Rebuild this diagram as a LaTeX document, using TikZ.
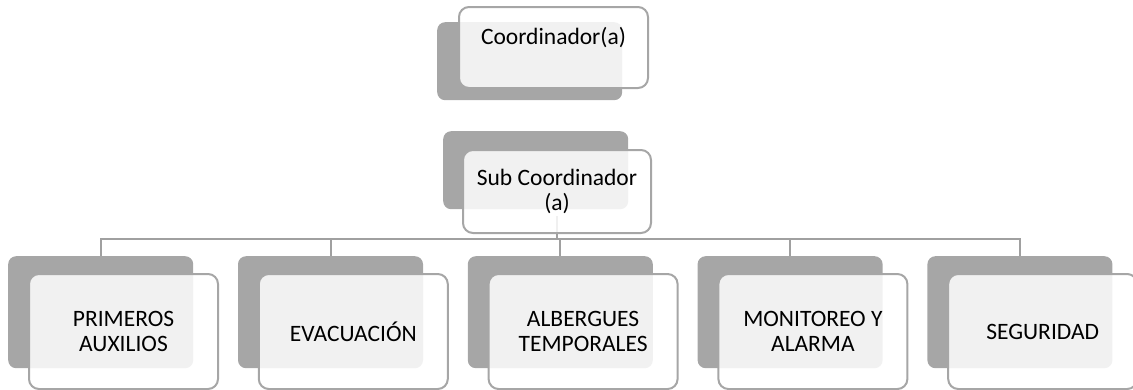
\documentclass[tikz,border=0pt]{standalone}
\usepackage{fontspec}
\setmainfont{Carlito}
\usepackage{tikz}
\usetikzlibrary{positioning,calc,backgrounds}
\definecolor{boxgray}{HTML}{A6A6A6}
\definecolor{edgegray}{HTML}{A6A6A6}
\definecolor{conngray}{HTML}{A0A0A0}

\begin{document}
\begin{tikzpicture}[
    x=1pt, y=-1pt,
    backbox/.style={rectangle, rounded corners=8pt, fill=boxgray, anchor=north west, inner sep=0, minimum width=185pt},
    frontbox/.style={rectangle, rounded corners=10pt, draw=edgegray, line width=2pt, fill=white, fill opacity=0.85, text opacity=1,
        anchor=north west, inner sep=0, align=center, font=\fontsize{23.5}{25}\selectfont},
    boxtext/.style={inner sep=0, align=center, font=\fontsize{23.5}{25}\selectfont},
    conn/.style={draw=conngray, line width=2pt}]
\useasboundingbox (0,0) rectangle (1133,389);

% top unit
\node (coord-back) [backbox, minimum height=78pt] at (437,22) {};
\node (coord-front) [frontbox, minimum width=189pt, minimum height=81pt] at (458,6) {};
\node (coord-text) [boxtext] at ($(coord-front.center)+(0,-10)$) {Coordinador(a)};

% sub unit
\node (sub-back) [backbox, minimum height=78pt] at (443,131) {};
\node (sub-front) [frontbox, minimum width=188pt, minimum height=83pt] at (462,149) {Sub Coordinador\\(a)};

% teams
\foreach \i/\txt in {0/{PRIMEROS\\AUXILIOS}, 1/{EVACUACIÓN}, 2/{ALBERGUES\\TEMPORALES}, 3/{MONITOREO Y\\ALARMA}, 4/{SEGURIDAD}} {
    \node (team\i-back) [backbox, minimum height=112pt] at ({8+229.8*\i},256) {};
    \node (team\i-front) [frontbox, minimum width=189pt, minimum height=115pt] at ($(team\i-back.north west)+(20,17)$) {\txt};
}

\begin{scope}[on background layer]
\foreach \i in {0,...,4}
    \path[conn] ($(sub-front.south)+(0,-18)$) -- ++(0,23) -| (team\i-back.north);
\end{scope}

\end{tikzpicture}
\end{document}
